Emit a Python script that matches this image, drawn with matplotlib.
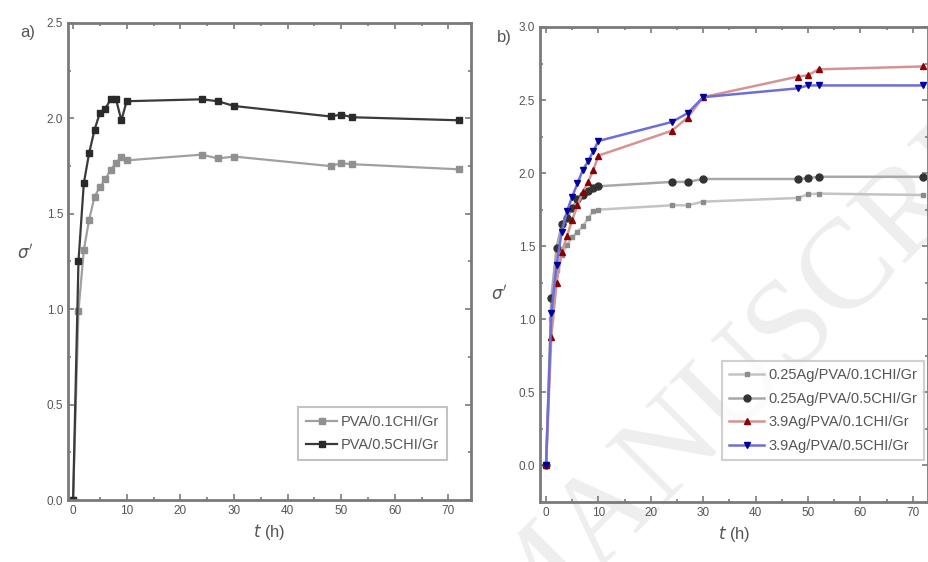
import matplotlib
matplotlib.use('Agg')
import matplotlib.pyplot as plt
from matplotlib.ticker import MultipleLocator

plt.rcParams['font.family'] = ['Liberation Sans', 'DejaVu Sans']

# 时间点 (h)
t = [0, 1, 2, 3, 4, 5, 6, 7, 8, 9, 10, 24, 27, 30, 48, 50, 52, 72]

# a) 面板
pva_01 = [0, 0.99, 1.31, 1.47, 1.59, 1.64, 1.68, 1.73, 1.765, 1.80, 1.78,
          1.81, 1.79, 1.80, 1.75, 1.765, 1.76, 1.733]
pva_05 = [0, 1.25, 1.66, 1.82, 1.94, 2.03, 2.05, 2.10, 2.10, 1.99, 2.09,
          2.10, 2.09, 2.065, 2.01, 2.02, 2.006, 1.99]

# b) 面板
ag025_01 = [0, 1.00, 1.34, 1.44, 1.51, 1.56, 1.60, 1.635, 1.69, 1.74, 1.75,
            1.78, 1.78, 1.805, 1.83, 1.855, 1.86, 1.85]
ag025_05 = [0, 1.145, 1.49, 1.65, 1.69, 1.76, 1.82, 1.85, 1.88, 1.90, 1.91,
            1.94, 1.94, 1.96, 1.96, 1.965, 1.975, 1.975]
ag39_01 = [0, 0.88, 1.25, 1.46, 1.57, 1.68, 1.78, 1.87, 1.94, 2.02, 2.12,
           2.29, 2.38, 2.52, 2.66, 2.67, 2.71, 2.73]
ag39_05 = [0, 1.04, 1.37, 1.60, 1.74, 1.84, 1.93, 2.02, 2.08, 2.15, 2.22,
           2.35, 2.41, 2.52, 2.58, 2.60, 2.60, 2.60]

labels_a = ['PVA/0.1CHI/Gr', 'PVA/0.5CHI/Gr']
labels_b = ['0.25Ag/PVA/0.1CHI/Gr', '0.25Ag/PVA/0.5CHI/Gr',
            '3.9Ag/PVA/0.1CHI/Gr', '3.9Ag/PVA/0.5CHI/Gr']

spine_c = '#7a7a7a'
text_c = '#555555'


def style_axes(ax):
    for s in ax.spines.values():
        s.set_color(spine_c)
        s.set_linewidth(2)
    ax.set_facecolor('none')
    ax.xaxis.set_major_locator(MultipleLocator(10))
    ax.xaxis.set_minor_locator(MultipleLocator(5))
    ax.yaxis.set_major_locator(MultipleLocator(0.5))
    ax.yaxis.set_minor_locator(MultipleLocator(0.25))
    ax.tick_params(which='both', direction='in', top=True, right=True,
                   colors=spine_c, labelcolor=text_c, labelsize=8.5, width=1.2)
    ax.tick_params(which='major', length=4)
    ax.tick_params(which='minor', length=2.5)
    ax.set_xlabel(r'$t$ (h)', fontsize=12, color=text_c)
    ax.set_ylabel(r"$\sigma'$", fontsize=12, color=text_c, rotation=0)


def style_legend(leg, edge):
    leg.get_frame().set_edgecolor(edge)
    leg.get_frame().set_linewidth(1.5)
    for txt in leg.get_texts():
        txt.set_color(text_c)


fig = plt.figure(figsize=(9.29, 5.62), dpi=100)

# 水印
fig.text(0.845, 0.40, 'MANUSCRIPT', fontsize=92, family='Liberation Serif',
         color='#eeeeee', rotation=45, ha='center', va='center', zorder=-10)

ax1 = fig.add_axes([0.0732, 0.1103, 0.4338, 0.8488])
ax1.plot(t, pva_01, color='#a0a0a0', lw=1.6, marker='s', ms=5,
         mfc='#909090', mec='#909090', label=labels_a[0])
ax1.plot(t, pva_05, color='#3a3a3a', lw=1.6, marker='s', ms=5,
         mfc='#2a2a2a', mec='#2a2a2a', label=labels_a[1])
ax1.set_xlim(-0.95, 74.2)
ax1.set_ylim(0, 2.5)
style_axes(ax1)
ax1.yaxis.set_label_coords(-0.105, 0.5)
leg1 = ax1.legend(loc='lower right', bbox_to_anchor=(0.94, 0.084), fontsize=10.5,
                  fancybox=False, handlelength=2.1, borderpad=0.55,
                  labelspacing=0.6, handletextpad=0.25, borderaxespad=0)
style_legend(leg1, '#b5b5b5')
fig.text(0.022, 0.935, 'a)', fontsize=12, color=text_c)

ax2 = fig.add_axes([0.5813, 0.1068, 0.4177, 0.8452])
ax2.plot(t, ag025_01, color='#c4c4c4', lw=1.8, marker='s', ms=3,
         mfc='#8c8c8c', mec='#8c8c8c', label=labels_b[0])
ax2.plot(t, ag025_05, color='#a8a8a8', lw=1.8, marker='o', ms=5,
         mfc='#333333', mec='#333333', label=labels_b[1])
ax2.plot(t, ag39_01, color='#d49494', lw=1.8, marker='^', ms=4.5,
         mfc='#8b0000', mec='#8b0000', label=labels_b[2])
ax2.plot(t, ag39_05, color='#6e6ed8', lw=1.8, marker='v', ms=4.5,
         mfc='#00009a', mec='#00009a', label=labels_b[3])
ax2.set_xlim(-1.15, 72.9)
ax2.set_ylim(-0.25, 3.0)
style_axes(ax2)
ax2.yaxis.set_label_coords(-0.105, 0.42)
leg2 = ax2.legend(loc='lower right', bbox_to_anchor=(0.99, 0.088), fontsize=10.5,
                  fancybox=False, handlelength=2.4, borderpad=0.5,
                  labelspacing=0.65, handletextpad=0.25, borderaxespad=0)
style_legend(leg2, '#c5c5c5')
fig.text(0.535, 0.925, 'b)', fontsize=12, color=text_c)

fig.savefig('out.png', dpi=100)
plt.close(fig)
